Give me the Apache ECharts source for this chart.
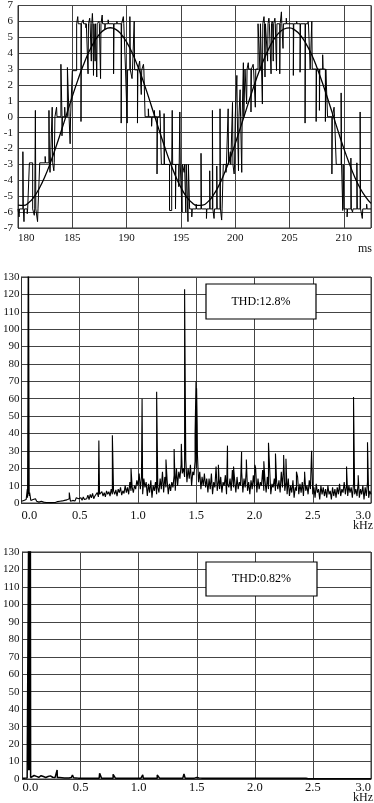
<!DOCTYPE html>
<html><head><meta charset="utf-8">
<script src="https://cdn.jsdelivr.net/npm/echarts@6/dist/echarts.min.js"></script>
<style>html,body{margin:0;padding:0;background:#fff}#c{width:374px;height:803px}</style>
</head><body><div id="c"></div>
<script>
// ---------- Panel 1: output voltage waveform (ms) ----------
const waveTimeTicks = [180, 185, 190, 195, 200, 205, 210];
const waveEnd = 212.5;
// [start time (ms), level]
const waveLevels = [
  [180.0,-5.8],[182.0,-2.9],[183.4,0.0],[185.0,2.9],[185.4,5.85],[189.9,2.95],[191.7,0.0],
  [193.2,-3.0],[195.8,-5.8],[198.9,-3.0],[200.0,0.0],[200.9,3.0],[202.1,5.85],[206.9,3.0],
  [208.5,0.0],[209.3,-3.0],[210.0,-5.8]
];
// [time (ms), value, optional pulse width (ms)]
const waveSpikes = [
  [180.1,-6.3],[180.45,-2.2],[180.55,-6.6],[180.85,-6.1],[181.05,-2.9,0.3],[181.5,-6.2],[181.6,0.4],[181.8,-6.6],
  [182.5,-2.5],[182.85,0.4],[182.95,-3.5],[183.15,0.6],[183.3,-3.4],
  [183.55,0.6],[183.95,3.3,0.1],[184.05,-1.2],[184.3,0.6],[184.55,3.1,0.15],[184.8,-1.7],
  [185.5,6.3],[185.8,-0.3],[186.0,6.1],[186.25,5.6],[186.45,2.7],[186.6,6.2],[186.75,3.5],[186.85,6.5],
  [186.95,2.6],[187.1,3.5],[187.25,2.5],[187.45,6.0],[187.6,2.4],[187.75,6.4],[188.0,5.5],[188.3,6.1],
  [188.8,2.7],[189.1,6.0],[189.5,-0.4],[189.7,6.3],
  [190.05,-0.4],[190.3,6.3],[190.5,2.4],[190.7,6.0],[191.0,-0.4],[191.2,3.5],[191.35,1.4],[191.55,3.3],
  [192.0,0.5],[192.3,-0.6],[192.55,0.4],[192.8,-3.6],[193.05,0.4],
  [193.45,0.2],[193.95,-5.9,0.2],[194.2,0.4],[194.5,-5.8],[194.8,-4.4],[194.9,0.3],[195.1,-6.0],
  [195.3,-3.5],[195.45,-6.0],[195.65,-6.6],
  [196.0,-6.3],[196.4,-5.5],[196.85,-2.3],[197.35,-6.4],[197.65,-3.4],[197.9,0.4],[198.05,-6.4],
  [198.3,-3.1],[198.6,0.5],[198.75,-6.5],
  [199.15,-3.5],[199.35,0.5],[199.55,-2.2],[199.75,0.9],[199.9,-3.6],
  [200.15,2.6],[200.3,-3.4],[200.45,1.7],[200.6,-3.5],[200.75,3.4],
  [201.05,0.8],[201.2,3.4],[201.45,0.3],[201.65,3.3],[201.85,0.6],
  [202.28,2.9],[202.5,0.8],[202.65,6.3],[202.74,2.5],[202.88,5.9],[202.98,3.5],[203.1,6.2],[203.3,2.7],
  [203.4,6.0],[203.5,3.5],[203.65,6.2],[203.8,2.9],[204.1,2.7],[204.25,6.6],[204.4,4.3],[204.7,6.2],
  [205.35,2.6],[205.65,6.0],[205.97,2.8],[206.1,5.9],[206.43,-0.4],[206.7,6.0],
  [207.05,6.0],[207.45,-0.3],[207.75,0.4],[208.05,3.9],[208.3,-0.3],
  [208.9,-3.6],[209.1,0.6],
  [209.75,1.5],[209.9,-5.9],
  [210.3,-6.3],[210.65,-2.6],[210.8,-6.0],[211.2,-2.9],[211.5,0.3],[211.7,-6.4],[212.1,-5.5]
];
// fundamental curve [time (ms), value]
const sineCurve = [
  [180,-5.56],[180.5,-5.58],[181,-5.40],[181.5,-5.02],[182,-4.45],[182.5,-3.73],[183,-2.86],[183.5,-1.89],
  [184,-0.86],[184.5,0.21],[185,1.28],[185.5,2.29],[186,3.22],[186.5,4.04],[187,4.70],[187.5,5.19],
  [188,5.50],[188.5,5.60],[189,5.50],[189.5,5.19],[190,4.70],[190.5,4.04],[191,3.22],[191.5,2.30],
  [192,1.28],[192.5,0.21],[193,-0.86],[193.5,-1.89],[194,-2.86],[194.5,-3.72],[195,-4.45],[195.5,-5.02],
  [196,-5.40],[196.5,-5.58],[197,-5.56],[197.5,-5.34],[198,-4.92],[198.5,-4.32],[199,-3.56],[199.5,-2.68],
  [200,-1.69],[200.5,-0.64],[201,0.42],[201.5,1.48],[202,2.48],[202.5,3.38],[203,4.16],[203.5,4.80],
  [204,5.26],[204.5,5.52],[205,5.59],[205.5,5.45],[206,5.13],[206.5,4.62],[207,3.96],[207.5,3.13],
  [208,2.19],[208.5,1.16],[209,0.10],[209.5,-0.97],[210,-2.00],[210.5,-2.94],[211,-3.79],[211.5,-4.50],
  [212,-5.04],[212.5,-5.45]
];

// ---------- Panels 2/3: spectra (kHz) ----------
const freqTicks = ['0.0','0.5','1.0','1.5','2.0','2.5','3.0'];
const spec1Step = 0.01;
const spec1Noise = [
  1,0.5,1.5,1,2,8,129,6,1.5,2,
  2,1,2.5,1,1.5,0.5,1.5,1,1,0.5,
  0.5,0.3,0.8,0.3,0.5,0.2,0.4,0.3,0.5,0.3,
  0.5,0.8,0.5,1,0.6,1.2,0.8,1.5,1,1.8,
  1.5,2.5,1,2,1.5,2.5,1.2,3,2,2.5,
  2,3,1.5,3.5,2,3,2.5,4.5,2,5,
  3,5.5,2.5,4,3,6,3.5,5,4,6.5,
  4,6,3.5,7,5,6.5,4,8,5,7,
  5,7.5,4,8,6,9,4.5,7,5.5,10,
  6,9,5,12,7,9,6,10,8,13,
  10,17,8,15,5,14,9,12,4,11,
  6,13,3,10,7,12,5,9,6,14,
  8,18,6,15,9,13,5,11,7,12,
  9,16,7,20,10,18,14,22,17,20,
  15,25,12,20,14,22,10,18,16,24,
  20,28,12,18,8,15,10,17,9,14,
  6,14,8,17,5,12,9,21,7,13,
  8,15,6,12,10,16,5,11,9,14,
  7,19,9,13,6,15,8,12,10,18,
  6,14,9,20,7,12,5,13,8,16,
  9,20,6,14,8,12,10,19,7,13,
  6,15,8,20,5,11,9,14,7,12,
  8,13,6,18,9,22,7,12,5,14,
  4,10,6,13,3,9,7,15,5,11,
  6,12,4,15,7,10,5,13,8,9,
  5,9,3,11,6,8,2,10,5,9,
  4,8,3,10,5,7,2,9,4,8,
  3,9,5,11,4,8,6,12,5,10,
  4,10,6,9,3,11,5,8,4,12,
  3,8,5,10,2,9,4,12,3,7,
  5
];
const spec1Peaks = [
  [0.052,3],[0.055,62],[0.057,131],[0.059,5],[0.061,131],[0.063,131],[0.066,4],[0.41,6],[0.664,36],[0.78,39],[0.94,20],[1.035,60],[1.16,64],[1.24,25],
  [1.31,31],[1.372,34],[1.40,123],[1.49,40],[1.498,70],[1.503,66],[1.508,45],[1.69,22],[1.768,33],
  [1.82,21],[1.889,29.5],[1.93,25],[2.003,22],[2.08,24],[2.12,34.6],[2.18,28.5],[2.25,27.6],
  [2.27,25.5],[2.36,18],[2.43,18],[2.49,30],[2.79,21],[2.85,61],[2.89,16],[2.97,35]
];
const spec2Step = 0.02;
const spec2Noise = [
  0.5,0.5,0.6,134,1.2,2.0,1.5,1.0,1.9,1.4,
  0.9,1.4,1.8,1.0,0.8,0.8,0.8,0.7,0.6,0.6,
  0.6,0.8,0.7,0.6,0.5,0.5,0.5,0.5,0.5,0.5,
  0.5,0.5,0.5,0.5,0.5,0.5,0.5,0.5,0.5,0.5,
  0.5,0.5,0.5,0.5,0.5,0.5,0.5,0.5,0.5,0.5,
  0.5,0.5,0.5,0.5,0.5,0.5,0.5,0.5,0.5,0.5,
  0.5,0.5,0.5,0.5,0.5,0.5,0.5,0.5,0.5,0.5,
  0.5,0.5,0.5,0.5,0.5,0.8,0.6,0.5,0.5,0.5,
  0.4,0.4,0.4,0.4,0.4,0.4,0.4,0.4,0.4,0.4,
  0.4,0.4,0.4,0.4,0.4,0.4,0.4,0.4,0.4,0.4,
  0.4,0.4,0.4,0.4,0.4,0.4,0.4,0.4,0.4,0.4,
  0.4,0.4,0.4,0.4,0.4,0.4,0.4,0.4,0.4,0.4,
  0.4,0.4,0.4,0.1,0.1,0.1,0.1,0.1,0.1,0.1,
  0.1,0.1,0.1,0.1,0.1,0.1,0.1,0.1,0.1,0.1,
  0.1,0.1,0.1,0.1,0.1,0.1,0.1,0.1,0.1,0.1,
  0.1
];
const spec2Peaks = [
  [0.050,0.6],[0.052,134],[0.054,5],[0.056,134],[0.058,5],[0.062,5],[0.064,134],[0.066,5],[0.068,134],[0.070,0.8],
  [0.298,5.2],[0.43,2.3],[0.664,3.3],[0.78,2.7],
  [0.94,1.3],[1.035,2.3],[1.16,2.3],[1.39,2.9],[1.50,1.2]
];
const thdLabels = ['THD:12.8%', 'THD:0.82%'];

// ---------- build polylines ----------
function buildWave(levels, spikes, tEnd) {
  const pts = [];
  for (let i = 0; i < levels.length; i++) {
    const t0 = levels[i][0], L = levels[i][1];
    const t1 = i + 1 < levels.length ? levels[i + 1][0] : tEnd;
    if (i === 0) pts.push([t0, L]); else pts.push([t0, levels[i - 1][1]], [t0, L]);
    spikes.filter(s => s[0] >= t0 && s[0] < t1).forEach(s => {
      const w = s[2] || 0.04;
      pts.push([s[0], L], [s[0], s[1]], [s[0] + w, s[1]], [s[0] + w, L]);
    });
  }
  pts.push([tEnd, levels[levels.length - 1][1]]);
  return pts;
}
function buildSpec(noise, step, peaks) {
  const pts = noise.map((v, i) => [Math.round(i * step * 1000) / 1000, v]);
  peaks.forEach(p => pts.push([p[0], p[1]]));
  pts.sort((a, b) => a[0] - b[0]);
  return pts;
}
const waveData = buildWave(waveLevels, waveSpikes, waveEnd);
const spec1Data = buildSpec(spec1Noise, spec1Step, spec1Peaks);
const spec2Data = buildSpec(spec2Noise, spec2Step, spec2Peaks);

const FONT = '"Liberation Serif", "Times New Roman", serif';
const gridLine = { show: true, lineStyle: { color: '#444', width: 1 } };
const axisLine = { show: true, lineStyle: { color: '#333', width: 1 } };

function yAx(gi, min, max, itv, margin) {
  return { type: 'value', gridIndex: gi, min, max, interval: itv,
    axisLine, axisTick: { show: false }, splitLine: gridLine,
    axisLabel: { fontFamily: FONT, fontSize: 11, color: '#111', margin } };
}
function xFreq(gi, margin) {
  return { type: 'value', gridIndex: gi, min: 0, max: 3, interval: 0.5,
    axisLine, axisTick: { show: false }, splitLine: gridLine,
    axisLabel: { fontFamily: FONT, fontSize: 12.5, color: '#111', margin,
      alignMinLabel: 'left', alignMaxLabel: 'right',
      formatter: v => { const s = v.toFixed(1); return freqTicks.includes(s) ? s : ''; } } };
}

const chart = echarts.init(document.getElementById('c'), null, { renderer: 'canvas' });
chart.setOption({
  animation: false,
  backgroundColor: '#fff',
  grid: [
    { left: 18, right: 3, top: 2, height: 226, show: true, borderColor: '#333', borderWidth: 1, backgroundColor: 'transparent' },
    { left: 18, right: 3, top: 277, height: 226, show: true, borderColor: '#333', borderWidth: 1, backgroundColor: 'transparent' },
    { left: 18, right: 3, top: 552, height: 227, show: true, borderColor: '#333', borderWidth: 1, backgroundColor: 'transparent' }
  ],
  xAxis: [
    { type: 'value', gridIndex: 0, min: 180, max: waveEnd, interval: 5,
      axisLine, axisTick: { show: false }, splitLine: gridLine,
      axisLabel: { fontFamily: FONT, fontSize: 11, color: '#111', margin: 5, alignMinLabel: 'left',
        formatter: v => waveTimeTicks.includes(v) ? String(v) : '' } },
    xFreq(1, 6),
    xFreq(2, 2)
  ],
  yAxis: [ yAx(0, -7, 7, 1, 5), yAx(1, 0, 130, 10, 2), yAx(2, 0, 130, 10, 3) ],
  series: [
    { type: 'line', xAxisIndex: 0, yAxisIndex: 0, data: waveData, showSymbol: false, symbol: 'none',
      lineStyle: { color: '#000', width: 1 }, z: 3 },
    { type: 'line', xAxisIndex: 0, yAxisIndex: 0, data: sineCurve, smooth: true, showSymbol: false, symbol: 'none',
      lineStyle: { color: '#000', width: 1.3 }, z: 4 },
    { type: 'line', xAxisIndex: 1, yAxisIndex: 1, data: spec1Data, showSymbol: false, symbol: 'none',
      lineStyle: { color: '#000', width: 1.1 }, z: 3 },
    { type: 'line', xAxisIndex: 2, yAxisIndex: 2, data: spec2Data, showSymbol: false, symbol: 'none',
      lineStyle: { color: '#000', width: 1.5 }, z: 3 }
  ],
  graphic: [
    { type: 'rect', shape: { x: 206, y: 284, width: 110, height: 35 }, style: { fill: '#fff', stroke: '#000', lineWidth: 1.2 }, z: 100 },
    { type: 'text', x: 261, y: 302, style: { text: thdLabels[0], font: '12px ' + FONT, fill: '#000', textAlign: 'center', textVerticalAlign: 'middle' }, z: 101 },
    { type: 'rect', shape: { x: 206, y: 562, width: 111, height: 34 }, style: { fill: '#fff', stroke: '#000', lineWidth: 1.2 }, z: 100 },
    { type: 'text', x: 261.5, y: 579, style: { text: thdLabels[1], font: '12px ' + FONT, fill: '#000', textAlign: 'center', textVerticalAlign: 'middle' }, z: 101 },
    { type: 'text', x: 372, y: 249, style: { text: 'ms', font: '12px ' + FONT, fill: '#111', textAlign: 'right', textVerticalAlign: 'middle' }, z: 101 },
    { type: 'text', x: 373, y: 525.5, style: { text: 'kHz', font: '12px ' + FONT, fill: '#111', textAlign: 'right', textVerticalAlign: 'middle' }, z: 101 },
    { type: 'text', x: 373, y: 797.5, style: { text: 'kHz', font: '12px ' + FONT, fill: '#111', textAlign: 'right', textVerticalAlign: 'middle' }, z: 101 }
  ]
});
</script></body></html>
